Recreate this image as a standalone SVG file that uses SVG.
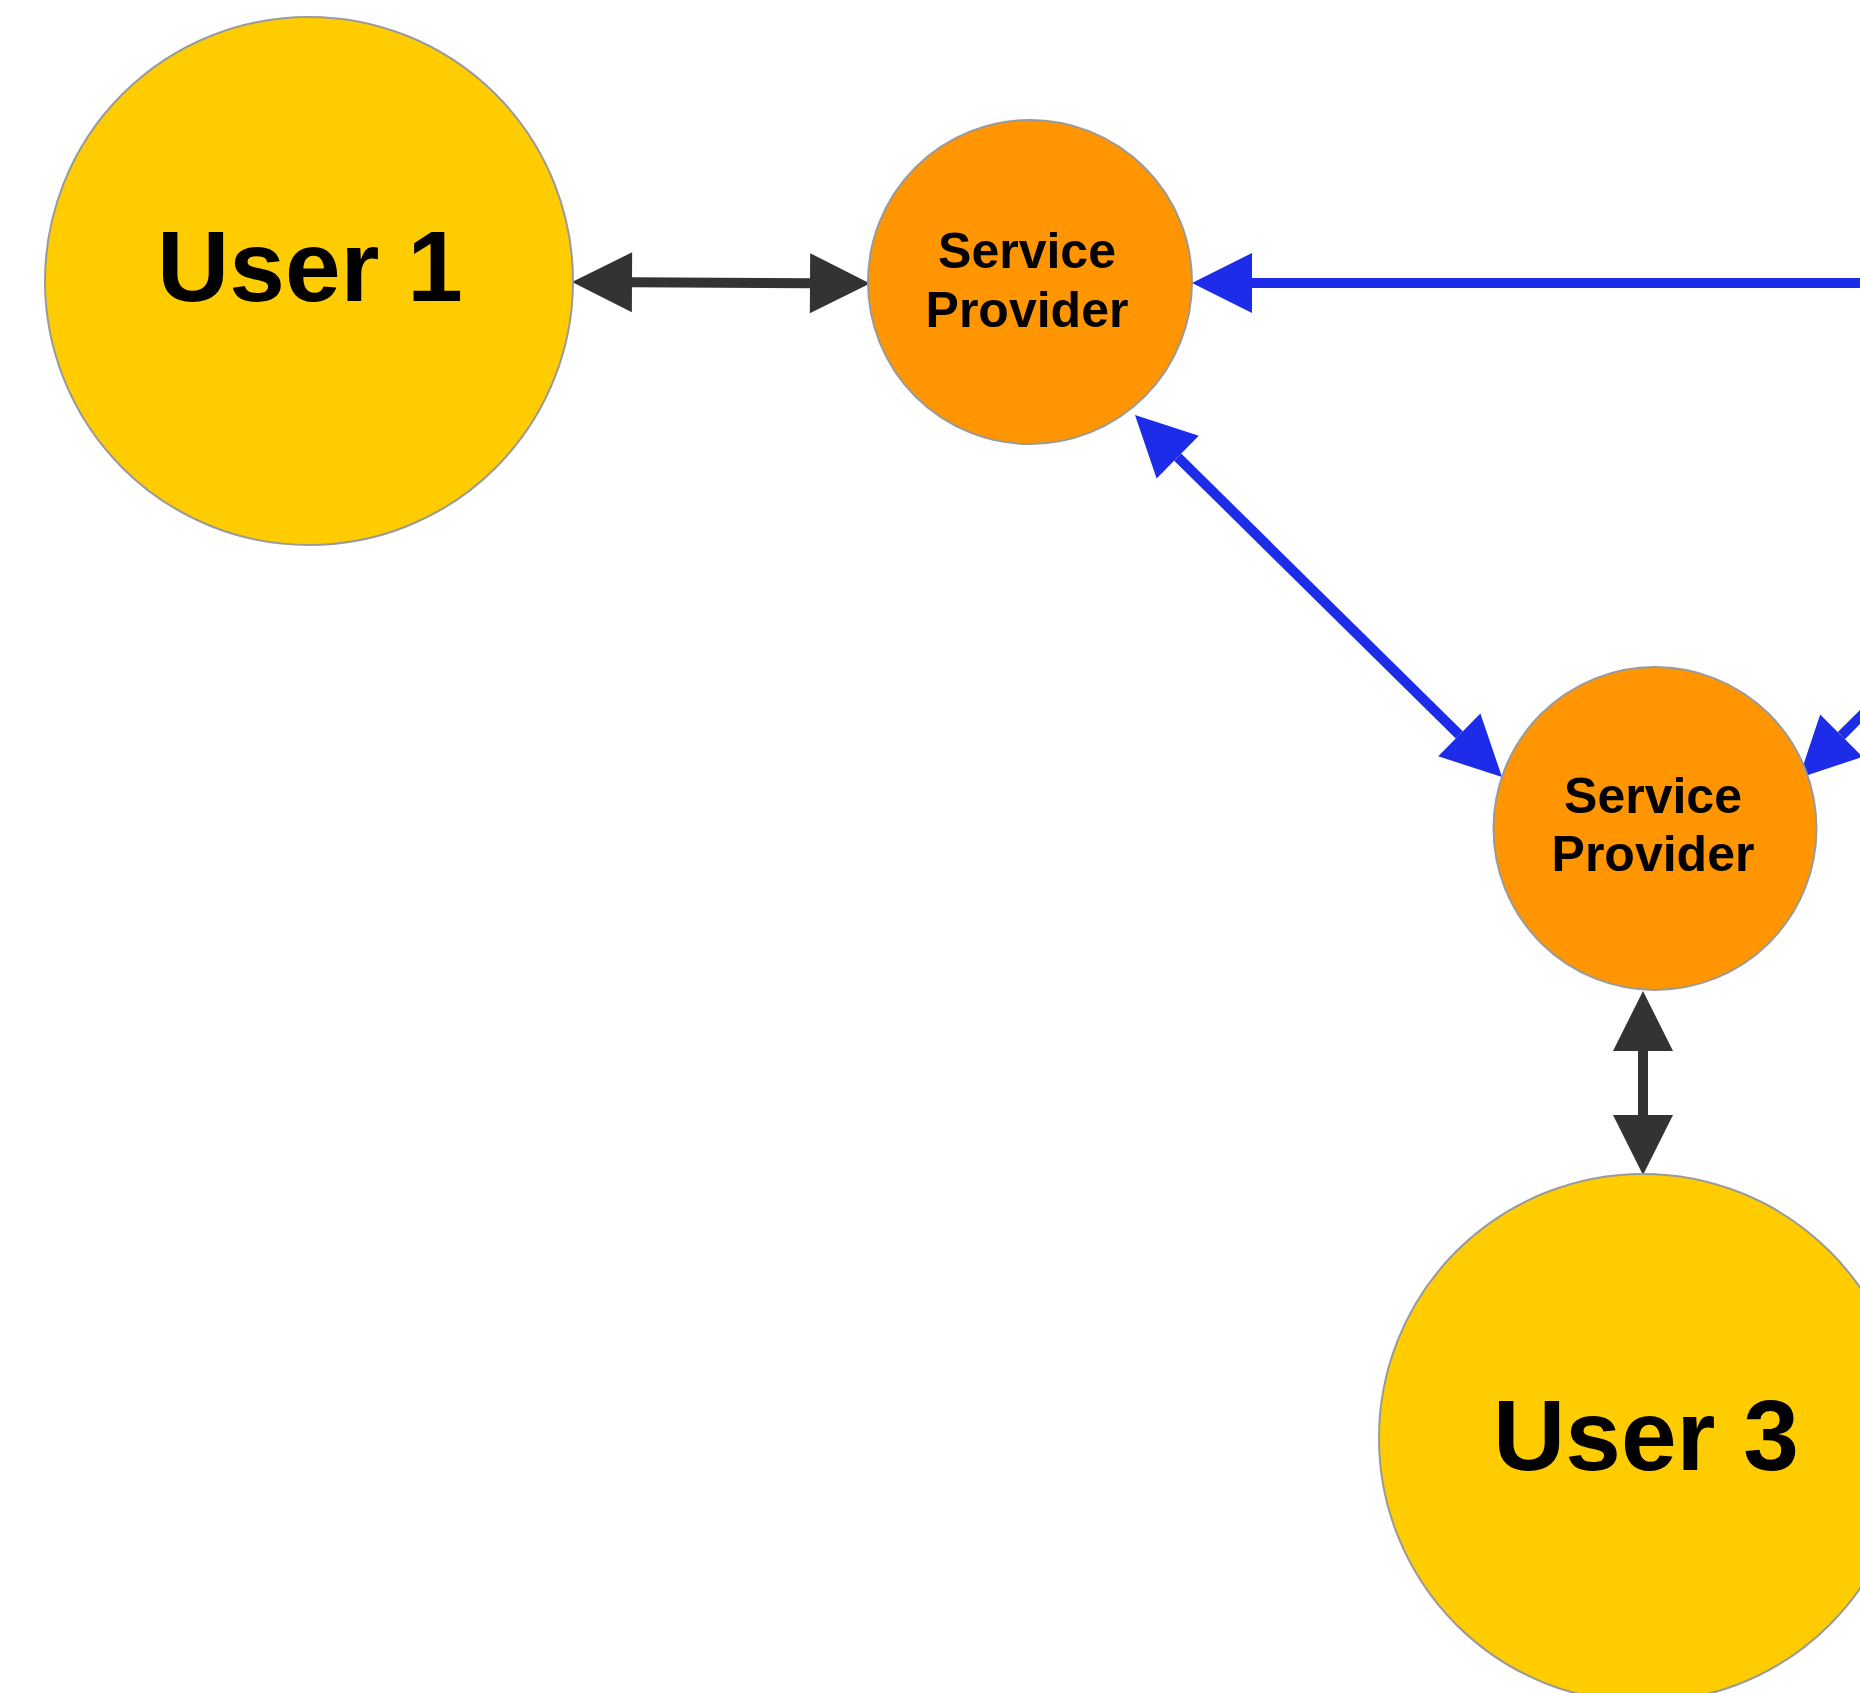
<svg xmlns="http://www.w3.org/2000/svg" width="1860" height="1693" viewBox="0 0 1860 1693">
  <style>
    .user { fill: #FFCC00; stroke: #9A9A9A; stroke-width: 2; }
    .sp { fill: #FF9500; stroke: #9A9A9A; stroke-width: 2; }
    .ulabel { font-family: "Liberation Sans", Arial, Helvetica, sans-serif; font-weight: bold; font-size: 100px; fill: #000; text-anchor: middle; }
    .slabel { font-family: "Liberation Sans", Arial, Helvetica, sans-serif; font-weight: bold; font-size: 50px; fill: #000; text-anchor: middle; }
    .dark { stroke: #333333; stroke-width: 10; fill: none; }
    .blue { stroke: #1C2CE9; stroke-width: 10; fill: none; }
  </style>
  <defs>
    <marker id="ahDark" markerUnits="userSpaceOnUse" markerWidth="60" markerHeight="60" viewBox="0 -30 60 60" refX="0" refY="0" orient="auto-start-reverse" overflow="visible">
      <path d="M0,-30 L60,0 L0,30 Z" fill="#333333"/>
    </marker>
    <marker id="ahBlue" markerUnits="userSpaceOnUse" markerWidth="60" markerHeight="60" viewBox="0 -30 60 60" refX="0" refY="0" orient="auto-start-reverse" overflow="visible">
      <path d="M0,-30 L60,0 L0,30 Z" fill="#1C2CE9"/>
    </marker>
  </defs>
  <rect x="0" y="0" width="1860" height="1693" fill="#FFFFFF"/>

  <g id="connectors">
    <line class="dark" x1="632" y1="282.3" x2="810" y2="283.2" marker-start="url(#ahDark)" marker-end="url(#ahDark)"/>
    <line class="blue" x1="1252" y1="283" x2="1880" y2="283" marker-start="url(#ahBlue)"/>
    <line class="blue" x1="1177.7" y1="457.1" x2="1459.3" y2="734.9" marker-start="url(#ahBlue)" marker-end="url(#ahBlue)"/>
    <line class="blue" x1="1910" y1="667" x2="1841.4" y2="735.6" marker-end="url(#ahBlue)"/>
    <line class="dark" x1="1643" y1="1051" x2="1643" y2="1115" marker-start="url(#ahDark)" marker-end="url(#ahDark)"/>
  </g>

  <g id="user1">
    <circle class="user" cx="309" cy="281" r="264"/>
    <text class="ulabel" x="310" y="301">User 1</text>
  </g>

  <g id="sp1">
    <circle class="sp" cx="1030" cy="282" r="162"/>
    <text class="slabel" x="1027" y="268">Service</text>
    <text class="slabel" x="1027" y="327">Provider</text>
  </g>

  <g id="sp2">
    <circle class="sp" cx="1655" cy="828.5" r="161.5"/>
    <text class="slabel" x="1653" y="813">Service</text>
    <text class="slabel" x="1653" y="871">Provider</text>
  </g>

  <g id="user3">
    <circle class="user" cx="1643" cy="1438" r="264"/>
    <text class="ulabel" x="1646" y="1470">User 3</text>
  </g>
</svg>
